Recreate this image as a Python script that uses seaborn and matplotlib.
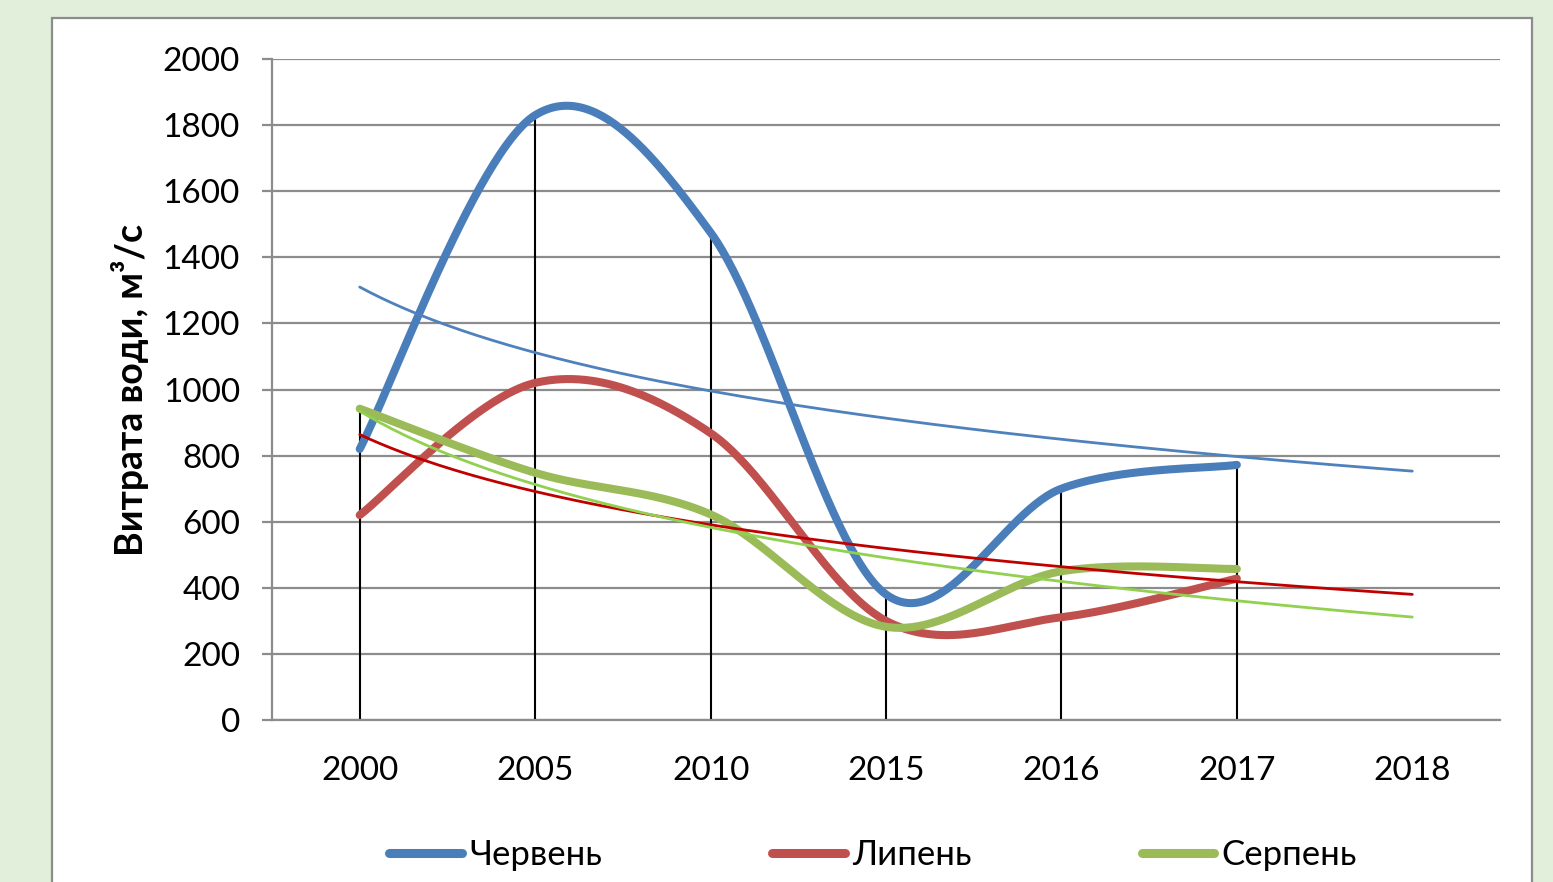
import numpy as np
import pandas as pd
import matplotlib
matplotlib.use("Agg")
import matplotlib.pyplot as plt
import seaborn as sns
from matplotlib.patches import Rectangle
from matplotlib.lines import Line2D

# Water discharge by month and year
years = ["2000", "2005", "2010", "2015", "2016", "2017", "2018"]
june = [820, 1830, 1475, 380, 700, 772]
july = [620, 1020, 868, 300, 311, 428]
august = [942, 748, 622, 282, 450, 457]

series_names = ["Червень", "Липень", "Серпень"]
series_colors = ["#4A7EBB", "#C0504D", "#9BBB59"]
trend_colors = ["#4F81BD", "#C00000", "#92D050"]
y_ticks = [0, 200, 400, 600, 800, 1000, 1200, 1400, 1600, 1800, 2000]


def smooth(values, n=60):
    """Catmull-Rom spline through the points placed at x = 0..len-1."""
    p = np.column_stack([np.arange(len(values), dtype=float),
                         np.asarray(values, dtype=float)])
    pts = np.vstack([p[:1], p, p[-1:]])
    out = []
    for i in range(len(p) - 1):
        p0, p1, p2, p3 = pts[i:i + 4]
        m1 = (p2 - p0) / 2.0
        m2 = (p3 - p1) / 2.0
        t = np.linspace(0, 1, n, endpoint=(i == len(p) - 2))[:, None]
        h00 = 2 * t**3 - 3 * t**2 + 1
        h10 = t**3 - 2 * t**2 + t
        h01 = -2 * t**3 + 3 * t**2
        h11 = t**3 - t**2
        out.append(h00 * p1 + h10 * m1 + h01 * p2 + h11 * m2)
    c = np.vstack(out)
    return c[:, 0], c[:, 1]


sns.set_theme(style="white")
plt.rcParams["font.family"] = ["Lato", "DejaVu Sans"]

fig = plt.figure(figsize=(15.53, 8.82), dpi=100)
fig.patch.set_facecolor("#E2EFDA")
panel = Rectangle((52 / 1553, -0.05), (1532 - 52) / 1553, 1 - 18 / 882 + 0.05,
                  transform=fig.transFigure, facecolor="white",
                  edgecolor="#8C8C8C", linewidth=1.6, zorder=-10)
fig.patches.append(panel)

ax = fig.add_axes([272 / 1553, 1 - 720 / 882, (1500 - 272) / 1553, (720 - 59) / 882])
ax.set_facecolor("none")
ax.set_zorder(5)

# smoothed series
frames = []
for name, vals in zip(series_names, [june, july, august]):
    xs, ys = smooth(vals)
    frames.append(pd.DataFrame({"x": xs, "y": ys, "month": name}))
curves = pd.concat(frames, ignore_index=True)

# drop lines from the axis up to the highest value of each year
tops = np.max(np.array([june, july, august]), axis=0)
ax.vlines(np.arange(len(tops)), 0, tops, colors="black", linewidth=1.5, zorder=2)

sns.lineplot(data=curves, x="x", y="y", hue="month", palette=series_colors,
             hue_order=series_names, sort=False, estimator=None, linewidth=5.8,
             legend=False, ax=ax, zorder=3)
for line in ax.get_lines():
    line.set_solid_capstyle("round")

# logarithmic trend lines, extended one step forward
xt = np.linspace(0, len(years) - 1, 200)
trend_frames = []
for name, vals in zip(series_names, [june, july, august]):
    b, a = np.polyfit(np.log(np.arange(1, len(vals) + 1)), vals, 1)
    trend_frames.append(pd.DataFrame({"x": xt, "y": a + b * np.log(xt + 1), "month": name}))
trends = pd.concat(trend_frames, ignore_index=True)
sns.lineplot(data=trends, x="x", y="y", hue="month", palette=trend_colors,
             hue_order=series_names, sort=False, estimator=None, linewidth=2.0,
             legend=False, ax=ax, zorder=4)

ax.set_xlim(-0.5, len(years) - 0.5)
ax.set_ylim(0, 2000)
ax.set_xticks(range(len(years)))
ax.set_xticklabels(years)
ax.set_yticks(y_ticks)
ax.yaxis.grid(True, color="#8C8C8C", linewidth=1.6)
ax.set_axisbelow(True)
for side in ["top", "right"]:
    ax.spines[side].set_visible(False)
for side in ["left", "bottom"]:
    ax.spines[side].set_color("#8C8C8C")
    ax.spines[side].set_linewidth(1.6)
ax.tick_params(axis="y", length=7, width=1.6, color="#8C8C8C", direction="out",
               labelsize=24, pad=16, left=True, labelcolor="black")
ax.tick_params(axis="x", length=0, labelsize=24, pad=26, labelcolor="black")
ax.set_xlabel("")
ax.set_ylabel("Витрата води, м³/с", fontsize=27, fontweight="bold", labelpad=10,
              color="black")

handles = [Line2D([0], [0], color=c, linewidth=6.5, solid_capstyle="round")
           for c in series_colors]
leg = fig.legend(handles, series_names, loc="center",
                 bbox_to_anchor=(873 / 1553, 1 - 855 / 882),
                 ncol=3, frameon=False, fontsize=25, handlelength=2.1,
                 handletextpad=0.2, columnspacing=4.9)
for txt in leg.get_texts():
    txt.set_color("black")

fig.savefig("out.png", dpi=100, facecolor=fig.get_facecolor())
